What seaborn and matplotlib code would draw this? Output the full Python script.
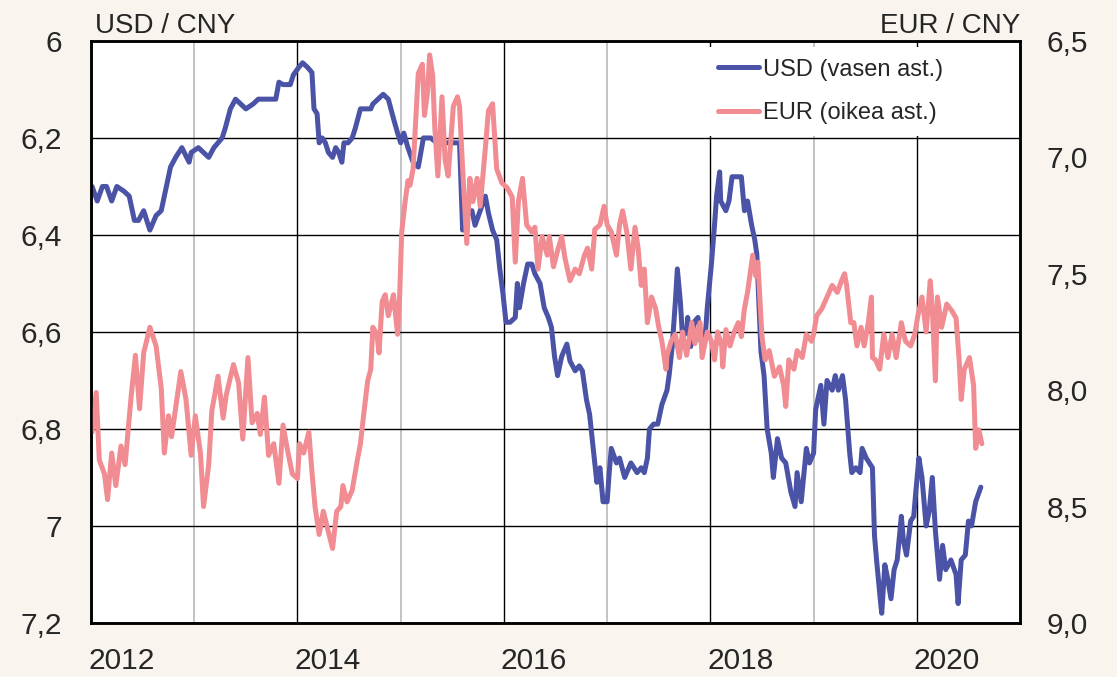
import numpy as np
import pandas as pd
import matplotlib
matplotlib.use("Agg")
import matplotlib.pyplot as plt
import matplotlib.transforms as mtransforms
from matplotlib.ticker import FuncFormatter
import seaborn as sns

# --- data ---
usd_t = [2012.01, 2012.06, 2012.11, 2012.15, 2012.20, 2012.25, 2012.32, 2012.37, 2012.42, 2012.46,
         2012.51, 2012.57, 2012.63, 2012.68, 2012.72, 2012.77, 2012.82, 2012.88, 2012.95, 2012.97,
         2013.04, 2013.09, 2013.14, 2013.19, 2013.27, 2013.30, 2013.35, 2013.40, 2013.45, 2013.50,
         2013.57, 2013.62, 2013.79, 2013.82, 2013.86, 2013.93, 2013.96, 2014.01, 2014.05, 2014.10,
         2014.14, 2014.16, 2014.19, 2014.21, 2014.24, 2014.27, 2014.30, 2014.34, 2014.37, 2014.40,
         2014.43, 2014.45, 2014.49, 2014.53, 2014.56, 2014.61, 2014.66, 2014.71, 2014.73, 2014.78,
         2014.83, 2014.88, 2014.93, 2014.97, 2015.00, 2015.03, 2015.07, 2015.12, 2015.17, 2015.22,
         2015.29, 2015.35, 2015.45, 2015.51, 2015.57, 2015.60, 2015.64, 2015.69, 2015.72, 2015.77,
         2015.82, 2015.85, 2015.89, 2015.93, 2015.96, 2015.99, 2016.02, 2016.06, 2016.11, 2016.13,
         2016.15, 2016.19, 2016.23, 2016.27, 2016.30, 2016.35, 2016.39, 2016.43, 2016.46, 2016.49,
         2016.52, 2016.56, 2016.61, 2016.64, 2016.69, 2016.73, 2016.76, 2016.80, 2016.83, 2016.86,
         2016.90, 2016.93, 2016.96, 2017.00, 2017.02, 2017.04, 2017.09, 2017.12, 2017.17, 2017.23,
         2017.29, 2017.33, 2017.36, 2017.39, 2017.41, 2017.45, 2017.49, 2017.53, 2017.58, 2017.60,
         2017.63, 2017.66, 2017.68, 2017.71, 2017.73, 2017.77, 2017.78, 2017.81, 2017.84, 2017.88,
         2017.91, 2017.95, 2017.97, 2018.01, 2018.04, 2018.06, 2018.09, 2018.10, 2018.15, 2018.18,
         2018.21, 2018.26, 2018.30, 2018.33, 2018.36, 2018.40, 2018.43, 2018.45, 2018.49, 2018.52,
         2018.55, 2018.59, 2018.61, 2018.65, 2018.69, 2018.73, 2018.78, 2018.82, 2018.84, 2018.88,
         2018.93, 2018.96, 2019.00, 2019.02, 2019.07, 2019.10, 2019.13, 2019.18, 2019.21, 2019.24,
         2019.28, 2019.31, 2019.35, 2019.37, 2019.41, 2019.45, 2019.47, 2019.51, 2019.54, 2019.57,
         2019.59, 2019.61, 2019.65, 2019.66, 2019.69, 2019.71, 2019.75, 2019.78, 2019.81, 2019.85,
         2019.87, 2019.90, 2019.94, 2019.97, 2019.99, 2020.02, 2020.05, 2020.09, 2020.12, 2020.15,
         2020.18, 2020.22, 2020.25, 2020.28, 2020.33, 2020.38, 2020.40, 2020.43, 2020.47, 2020.50,
         2020.53, 2020.57, 2020.62]
usd_v = [6.30, 6.33, 6.30, 6.30, 6.33, 6.30, 6.31, 6.32, 6.37, 6.37,
         6.35, 6.39, 6.36, 6.35, 6.31, 6.26, 6.24, 6.22, 6.25, 6.23,
         6.22, 6.23, 6.24, 6.22, 6.20, 6.18, 6.14, 6.12, 6.13, 6.14,
         6.13, 6.12, 6.12, 6.085, 6.09, 6.09, 6.07, 6.055, 6.045, 6.055,
         6.065, 6.14, 6.15, 6.21, 6.20, 6.21, 6.23, 6.24, 6.22, 6.23,
         6.25, 6.21, 6.21, 6.20, 6.18, 6.14, 6.14, 6.14, 6.13, 6.12,
         6.11, 6.12, 6.16, 6.19, 6.21, 6.19, 6.22, 6.25, 6.26, 6.20,
         6.20, 6.21, 6.21, 6.21, 6.21, 6.39, 6.36, 6.35, 6.38, 6.35,
         6.32, 6.355, 6.39, 6.41, 6.47, 6.52, 6.58, 6.58, 6.57, 6.50,
         6.55, 6.50, 6.46, 6.46, 6.48, 6.50, 6.55, 6.57, 6.59, 6.65,
         6.69, 6.65, 6.625, 6.66, 6.68, 6.67, 6.68, 6.74, 6.77, 6.83,
         6.91, 6.88, 6.95, 6.95, 6.89, 6.84, 6.87, 6.86, 6.90, 6.87,
         6.89, 6.88, 6.89, 6.86, 6.80, 6.79, 6.79, 6.75, 6.72, 6.69,
         6.63, 6.54, 6.47, 6.54, 6.61, 6.60, 6.57, 6.63, 6.58, 6.57,
         6.62, 6.61, 6.55, 6.46, 6.38, 6.32, 6.27, 6.33, 6.35, 6.33,
         6.28, 6.28, 6.28, 6.35, 6.33, 6.38, 6.41, 6.44, 6.64, 6.69,
         6.80, 6.85, 6.90, 6.82, 6.86, 6.87, 6.93, 6.96, 6.89, 6.95,
         6.84, 6.87, 6.85, 6.76, 6.71, 6.79, 6.70, 6.72, 6.69, 6.72,
         6.69, 6.74, 6.85, 6.89, 6.88, 6.89, 6.84, 6.86, 6.87, 6.88,
         7.02, 7.07, 7.16, 7.18, 7.08, 7.10, 7.15, 7.09, 7.07, 6.98,
         7.03, 7.06, 6.99, 6.98, 6.93, 6.86, 6.90, 7.00, 6.97, 6.90,
         7.01, 7.11, 7.04, 7.09, 7.07, 7.10, 7.16, 7.07, 7.06, 6.99,
         7.00, 6.95, 6.92]

eur_t = [2012.01, 2012.05, 2012.08, 2012.13, 2012.16, 2012.20, 2012.24, 2012.29, 2012.33, 2012.39,
         2012.43, 2012.47, 2012.51, 2012.57, 2012.63, 2012.68, 2012.71, 2012.75, 2012.78, 2012.87,
         2012.92, 2012.97, 2013.01, 2013.06, 2013.09, 2013.14, 2013.17, 2013.23, 2013.28, 2013.31,
         2013.38, 2013.43, 2013.47, 2013.52, 2013.56, 2013.61, 2013.64, 2013.68, 2013.72, 2013.77,
         2013.82, 2013.86, 2013.90, 2013.95, 2014.00, 2014.02, 2014.06, 2014.11, 2014.14, 2014.17,
         2014.21, 2014.25, 2014.30, 2014.34, 2014.38, 2014.42, 2014.44, 2014.48, 2014.53, 2014.58,
         2014.61, 2014.64, 2014.68, 2014.71, 2014.73, 2014.77, 2014.79, 2014.82, 2014.85, 2014.88,
         2014.93, 2014.97, 2014.99, 2015.01, 2015.04, 2015.07, 2015.09, 2015.12, 2015.17, 2015.21,
         2015.23, 2015.26, 2015.28, 2015.31, 2015.33, 2015.36, 2015.40, 2015.43, 2015.46, 2015.51,
         2015.55, 2015.57, 2015.60, 2015.64, 2015.67, 2015.70, 2015.74, 2015.77, 2015.82, 2015.85,
         2015.89, 2015.93, 2015.98, 2016.03, 2016.08, 2016.11, 2016.14, 2016.18, 2016.22, 2016.27,
         2016.30, 2016.33, 2016.37, 2016.42, 2016.44, 2016.48, 2016.52, 2016.56, 2016.59, 2016.64,
         2016.69, 2016.73, 2016.78, 2016.81, 2016.85, 2016.88, 2016.93, 2016.97, 2017.00, 2017.04,
         2017.09, 2017.12, 2017.15, 2017.19, 2017.23, 2017.27, 2017.30, 2017.33, 2017.36, 2017.39,
         2017.43, 2017.47, 2017.50, 2017.53, 2017.57, 2017.58, 2017.62, 2017.66, 2017.70, 2017.73,
         2017.77, 2017.82, 2017.85, 2017.90, 2017.92, 2017.97, 2018.01, 2018.04, 2018.07, 2018.11,
         2018.12, 2018.15, 2018.19, 2018.23, 2018.27, 2018.30, 2018.33, 2018.36, 2018.41, 2018.44,
         2018.46, 2018.50, 2018.53, 2018.57, 2018.62, 2018.67, 2018.71, 2018.73, 2018.76, 2018.81,
         2018.84, 2018.89, 2018.93, 2018.98, 2019.00, 2019.03, 2019.08, 2019.13, 2019.18, 2019.23,
         2019.27, 2019.30, 2019.32, 2019.36, 2019.39, 2019.42, 2019.46, 2019.49, 2019.53, 2019.56,
         2019.57, 2019.60, 2019.64, 2019.68, 2019.72, 2019.76, 2019.80, 2019.85, 2019.89, 2019.94,
         2019.98, 2020.01, 2020.05, 2020.09, 2020.13, 2020.15, 2020.18, 2020.20, 2020.24, 2020.29,
         2020.34, 2020.38, 2020.41, 2020.43, 2020.46, 2020.51, 2020.55, 2020.57, 2020.60, 2020.63]
eur_v = [8.18, 8.01, 8.30, 8.36, 8.47, 8.27, 8.41, 8.24, 8.32, 8.02,
         7.85, 8.08, 7.84, 7.73, 7.81, 7.99, 8.27, 8.11, 8.20, 7.92,
         8.04, 8.28, 8.11, 8.27, 8.50, 8.32, 8.09, 7.94, 8.12, 8.02,
         7.89, 7.97, 8.21, 7.86, 8.14, 8.10, 8.19, 8.03, 8.28, 8.23,
         8.40, 8.15, 8.25, 8.36, 8.38, 8.23, 8.27, 8.18, 8.35, 8.50,
         8.62, 8.52, 8.61, 8.68, 8.52, 8.50, 8.41, 8.48, 8.43, 8.30,
         8.23, 8.11, 7.96, 7.91, 7.73, 7.76, 7.84, 7.62, 7.59, 7.68,
         7.59, 7.76, 7.59, 7.32, 7.20, 7.10, 7.12, 7.05, 6.64, 6.60,
         6.82, 6.72, 6.56, 6.65, 6.87, 7.08, 6.74, 7.01, 7.08, 6.78,
         6.74, 6.78, 7.05, 7.37, 7.09, 7.19, 7.09, 7.21, 6.96, 6.80,
         6.77, 7.05, 7.11, 7.13, 7.17, 7.45, 7.19, 7.09, 7.29, 7.32,
         7.30, 7.48, 7.34, 7.42, 7.34, 7.47, 7.40, 7.34, 7.43, 7.53,
         7.48, 7.50, 7.42, 7.39, 7.48, 7.31, 7.29, 7.21, 7.29, 7.32,
         7.42, 7.29, 7.23, 7.32, 7.48, 7.30, 7.39, 7.55, 7.48, 7.71,
         7.60, 7.65, 7.73, 7.79, 7.91, 7.85, 7.79, 7.76, 7.86, 7.75,
         7.85, 7.71, 7.80, 7.71, 7.86, 7.75, 7.79, 7.87, 7.75, 7.81,
         7.90, 7.74, 7.81, 7.75, 7.71, 7.77, 7.65, 7.58, 7.42, 7.51,
         7.45, 7.77, 7.87, 7.83, 7.94, 7.90, 7.98, 8.07, 7.87, 7.91,
         7.83, 7.86, 7.76, 7.79, 7.76, 7.68, 7.65, 7.60, 7.55, 7.58,
         7.53, 7.50, 7.55, 7.71, 7.71, 7.81, 7.73, 7.81, 7.71, 7.60,
         7.86, 7.87, 7.91, 7.76, 7.86, 7.76, 7.86, 7.71, 7.79, 7.81,
         7.76, 7.68, 7.60, 7.75, 7.53, 7.65, 7.96, 7.60, 7.73, 7.63,
         7.66, 7.69, 7.87, 8.04, 7.91, 7.86, 7.98, 8.25, 8.17, 8.23]

usd_label = "USD (vasen ast.)"
eur_label = "EUR (oikea ast.)"
left_ticks = [6.0, 6.2, 6.4, 6.6, 6.8, 7.0, 7.2]
right_ticks = [6.5, 7.0, 7.5, 8.0, 8.5, 9.0]
label_years = [2012, 2014, 2016, 2018, 2020]
other_years = [2013, 2015, 2017, 2019]

BLUE = "#4A53A6"
PINK = "#F08C92"
BG = "#F9F5EE"
LW = 3.6

sns.set_style("white")
plt.rcParams["font.family"] = ["Liberation Sans", "DejaVu Sans"]

fig = plt.figure(figsize=(11.17, 6.77), dpi=100, facecolor=BG)
ax = fig.add_axes([0.0815, 0.0798, 0.8317, 0.8597])
ax.set_facecolor("white")

sns.lineplot(x=usd_t, y=usd_v, ax=ax, color=BLUE, linewidth=LW, label=usd_label)
ax2 = ax.twinx()
sns.lineplot(x=eur_t, y=eur_v, ax=ax2, color=PINK, linewidth=LW, label=eur_label)
for a in (ax, ax2):
    if a.get_legend() is not None:
        a.get_legend().remove()

ax.set_xlim(2012, 2021)
ax.set_ylim(7.2, 6.0)
ax2.set_ylim(9.0, 6.5)

# left axis
ax.set_yticks(left_ticks)
ax.yaxis.set_major_formatter(FuncFormatter(lambda v, p: f"{v:g}".replace(".", ",")))
ax.tick_params(axis="y", length=0, pad=21, labelsize=21.5)
# right axis
ax2.set_yticks(right_ticks)
ax2.yaxis.set_major_formatter(FuncFormatter(lambda v, p: f"{v:.1f}".replace(".", ",")))
ax2.tick_params(axis="y", length=0, pad=19, labelsize=21.5)

# x axis: black lines on even years, grey on odd years
ax.set_xticks(label_years)
ax.set_xticklabels([str(y) for y in label_years])
ax.set_xticks(other_years, minor=True)
ax.tick_params(axis="x", which="both", length=0, pad=17, labelsize=21.5)
shift = mtransforms.ScaledTranslation(-3 / 100, 0, fig.dpi_scale_trans)
for lbl in ax.get_xticklabels():
    lbl.set_horizontalalignment("left")
    lbl.set_transform(lbl.get_transform() + shift)

ax.set_axisbelow(True)
ax.grid(axis="y", color="black", linewidth=1.0)
ax.grid(axis="x", which="major", color="black", linewidth=1.0)
ax.grid(axis="x", which="minor", color="#C3C3C3", linewidth=1.4)

for a in (ax, ax2):
    for s in a.spines.values():
        s.set_color("black")
        s.set_linewidth(1.8)
ax.set_xlabel("")
ax.set_ylabel("")
ax2.set_ylabel("")

# axis headers
ax.text(0.004, 1.014, "USD / CNY", transform=ax.transAxes, ha="left", va="baseline", fontsize=20)
ax.text(1.0, 1.014, "EUR / CNY", transform=ax.transAxes, ha="right", va="baseline", fontsize=20)

handles = [ax.get_lines()[0], ax2.get_lines()[0]]
leg = ax2.legend(handles, [usd_label, eur_label], loc="upper left", bbox_to_anchor=(0.662, 0.9897),
                 borderaxespad=0, frameon=True, fancybox=False, facecolor="white", edgecolor="none",
                 framealpha=1, fontsize=17, handlelength=1.75, handletextpad=0.15,
                 labelspacing=0.9, borderpad=0.5)
for ln in leg.get_lines():
    ln.set_linewidth(LW)

fig.savefig("out.png", dpi=100, facecolor=BG)
